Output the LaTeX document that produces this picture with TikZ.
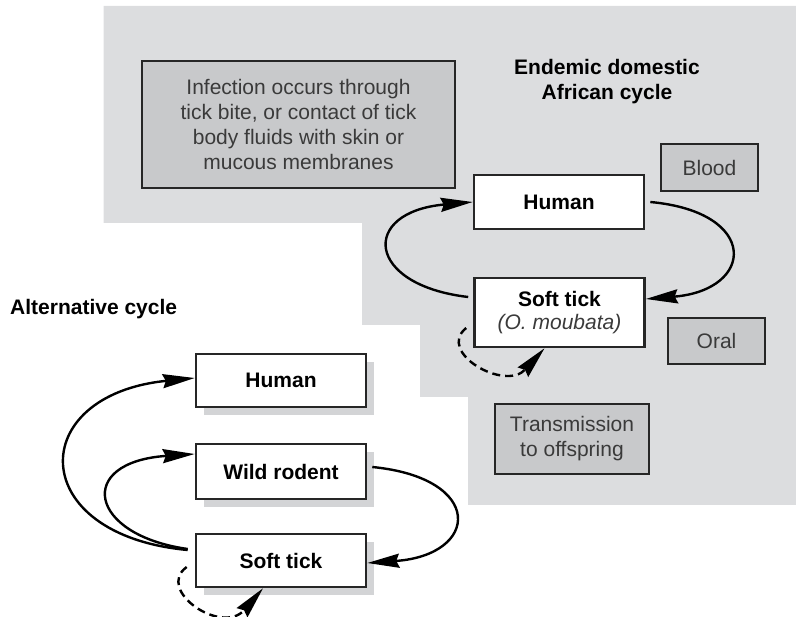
\documentclass[tikz,border=0pt]{standalone}
\usepackage{fontspec}
\setmainfont{Liberation Sans}
\usetikzlibrary{arrows.meta}
\definecolor{bgray}{HTML}{DCDDDF}
\definecolor{bfill}{HTML}{C8C9CB}
\definecolor{shad}{HTML}{D3D4D6}
\definecolor{txtgray}{HTML}{3A3A3A}
\tikzset{
  base/.style={draw=black!85, line width=2.6pt, inner sep=0pt, align=center,
    font=\fontsize{21}{25}\selectfont},
  whitebox/.style={base, fill=white, font=\fontsize{21}{25}\selectfont\bfseries},
  infobox/.style={base, fill=bfill, text=txtgray},
  shadowed/.style={preaction={fill=shad, transform canvas={xshift=8pt, yshift=-8pt}, draw=none}},
  title/.style={font=\fontsize{21}{25}\selectfont\bfseries, align=center, inner sep=0pt},
  arr/.style={line width=2.4pt, -{Stealth[length=32pt,width=14pt,inset=3pt]}},
  darr/.style={arr, dash pattern=on 8pt off 5pt}
}
\begin{document}
\begin{tikzpicture}[x=1pt,y=-1pt]
\useasboundingbox (0,0) rectangle (796,617);
% gray region
\fill[bgray] (103.5,6) -- (796,6) -- (796,505) -- (468,505) -- (468,397) -- (420,397)
  -- (420,325) -- (362,325) -- (362,223) -- (103.5,223) -- cycle;

% endemic cycle
\node[infobox, minimum width=313pt, minimum height=127pt] (inf) at (298.5,124.5)
  {Infection occurs through\\tick bite, or contact of tick\\body fluids with skin or\\mucous membranes};
\node[title] (endt) at (607,82) {Endemic domestic\\African cycle};
\node[infobox, minimum width=97pt, minimum height=47pt] (blood) at (709.5,167.5) {Blood};
\node[infobox, minimum width=97pt, minimum height=46pt] (oral) at (716.5,341) {Oral};
\node[infobox, minimum width=154pt, minimum height=70pt] (trans) at (572,439) {Transmission\\to offspring};
\node[whitebox, minimum width=170pt, minimum height=54pt] (eh) at (559,202) {Human};
\node[whitebox, minimum width=170pt, minimum height=69pt] (es) at (559.5,312.5)
  {Soft tick\\[-2pt]{\mdseries\itshape\color{txtgray}(O. moubata)}};

\draw[arr] ([xshift=-5pt,yshift=15.5pt]es.west) .. controls (365,285) and (360,212) .. (eh.west);
\draw[arr] ([xshift=5pt]eh.east) .. controls (760,212) and (755,290) .. ([yshift=13.5pt]es.east);
\draw[darr] ([xshift=-7pt,yshift=-15.5pt]es.west) .. controls (436,352) and (505,392) .. ([xshift=-15pt]es.south);

% alternative cycle
\node[title, anchor=west] (altt) at (10,309) {Alternative cycle};
\node[whitebox, shadowed, minimum width=170pt, minimum height=53pt] (ah) at (281,380.5) {Human};
\node[whitebox, shadowed, minimum width=170pt, minimum height=55pt] (ar) at (281,471.5) {Wild rodent};
\node[whitebox, shadowed, minimum width=170pt, minimum height=53pt] (as) at (281,560.5) {Soft tick};

\draw[arr] ([xshift=-7pt,yshift=10.5pt]as.west) .. controls (25,535) and (25,395) .. ([yshift=2.5pt]ah.west);
\draw[arr] ([xshift=-7pt,yshift=11.5pt]as.west) .. controls (88,535) and (75,462) .. ([yshift=17.5pt]ar.west);
\draw[arr] ([xshift=5pt,yshift=4.5pt]ar.east) .. controls (485,478) and (480,555) .. ([yshift=-2.5pt]as.east);
\draw[darr] ([xshift=-8pt,yshift=-6.5pt]as.west) .. controls (155,590) and (222,636) .. ([xshift=-18pt]as.south);
\end{tikzpicture}
\end{document}
